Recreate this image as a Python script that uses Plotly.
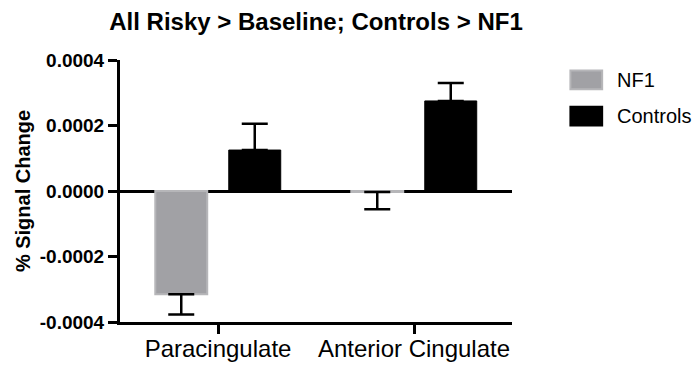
import plotly.graph_objects as go

# Regions and group means (% signal change) with SEM
regions = ["Paracingulate", "Anterior Cingulate"]
nf1_values = [-0.000315, -0.000003]
nf1_err = [0.000062, 0.000053]
control_values = [0.000125, 0.000275]
control_err = [0.000080, 0.000055]

y_tickvals = [0.0004, 0.0002, 0.0, -0.0002, -0.0004]
y_ticktext = ["0.0004", "0.0002", "0.0000", "-0.0002", "-0.0004"]

FONT = "Liberation Sans, Arial, Helvetica, sans-serif"
NF1_FILL = "#a1a1a5"
NF1_EDGE = "#b6b6b9"
CTRL_FILL = "#000000"

fig = go.Figure()

fig.add_trace(go.Bar(
    name="NF1",
    x=regions,
    y=nf1_values,
    width=0.265,
    offset=-0.32,
    marker=dict(color=NF1_FILL, line=dict(color=NF1_EDGE, width=2)),
    error_y=dict(type="data", symmetric=False,
                 array=[0, 0], arrayminus=nf1_err,
                 color="black", thickness=2.5, width=13),
    showlegend=False,
))

fig.add_trace(go.Bar(
    name="Controls",
    x=regions,
    y=control_values,
    width=0.265,
    offset=0.055,
    marker=dict(color=CTRL_FILL, line=dict(color=CTRL_FILL, width=1)),
    error_y=dict(type="data", symmetric=False,
                 array=control_err, arrayminus=[0, 0],
                 color="black", thickness=2.5, width=13),
    showlegend=False,
))

# Legend drawn as swatches with labels to the right of the plot
legend_items = [("NF1", NF1_FILL, NF1_EDGE, 0.924), ("Controls", CTRL_FILL, CTRL_FILL, 0.786)]
for label, fill, edge, yc in legend_items:
    fig.add_shape(type="rect", xref="paper", yref="paper",
                  x0=1.149, x1=1.23, y0=yc - 0.036, y1=yc + 0.036,
                  fillcolor=fill, line=dict(color=edge, width=2))
    fig.add_annotation(text=label, xref="paper", yref="paper",
                       x=1.263, y=yc, xanchor="left", yanchor="middle",
                       showarrow=False, font=dict(family=FONT, size=20, color="black"))

fig.update_layout(
    width=697, height=378,
    margin=dict(l=120, r=185, t=60, b=56),
    paper_bgcolor="white",
    plot_bgcolor="white",
    barmode="group",
    title=dict(text="<b>All Risky > Baseline; Controls > NF1</b>",
               x=0.5, xref="paper", xanchor="center",
               y=0.942, yref="container", yanchor="middle",
               font=dict(family=FONT, size=24, color="black")),
    xaxis=dict(
        range=[-0.5, 1.5],
        showline=True, linecolor="black", linewidth=3,
        ticks="outside", ticklen=9, tickwidth=3, tickcolor="black",
        ticklabelstandoff=-6,
        showgrid=False, zeroline=False,
        tickfont=dict(family=FONT, size=24, color="black"),
    ),
    yaxis=dict(
        range=[-0.0004, 0.0004],
        tickvals=y_tickvals, ticktext=y_ticktext,
        showline=True, linecolor="black", linewidth=3,
        ticks="outside", ticklen=9, tickwidth=3, tickcolor="black",
        showgrid=False,
        zeroline=True, zerolinecolor="black", zerolinewidth=3,
        tickfont=dict(family=FONT, size=19, color="black", weight="bold"),
        title=dict(text="<b>% Signal Change</b>", standoff=4,
                   font=dict(family=FONT, size=20, color="black")),
    ),
)

fig.write_html("out.html")
